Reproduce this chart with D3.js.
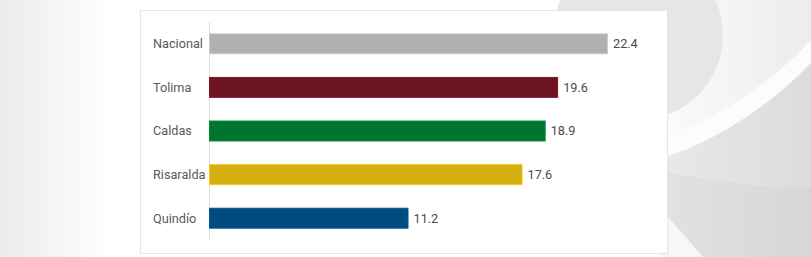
<!DOCTYPE html>
<html>
<head>
<meta charset="utf-8">
<script src="https://cdn.jsdelivr.net/npm/d3@7"></script>
<style>
  html, body { margin: 0; padding: 0; background: #fff; }
  svg { display: block; font-family: Roboto, "Noto Sans", sans-serif; }
</style>
</head>
<body>
<svg id="chart" width="811" height="257"></svg>
<script>
// chart data
const regions = ["Nacional", "Tolima", "Caldas", "Risaralda", "Quindío"];
const values = [22.4, 19.6, 18.9, 17.6, 11.2];
const barColors = ["#b0b0b0", "#6d1423", "#00752f", "#d5af0f", "#004c80"];

const W = 811, H = 257;
const card = { x: 140, y: 10, w: 527, h: 243 };
const plot = { left: 209, top: 22, bottom: 240 };

const svg = d3.select("#chart");
const defs = svg.append("defs");

// background decoration
const leftGrad = defs.append("linearGradient").attr("id", "leftGrad");
leftGrad.append("stop").attr("offset", "0%").attr("stop-color", "#ebebeb");
leftGrad.append("stop").attr("offset", "80%").attr("stop-color", "#ffffff");
svg.append("rect").attr("x", 0).attr("y", 0).attr("width", 140).attr("height", H)
  .attr("fill", "url(#leftGrad)");

const topGrad = defs.append("linearGradient").attr("id", "topGrad");
topGrad.append("stop").attr("offset", "0%").attr("stop-color", "#fbfbfb");
topGrad.append("stop").attr("offset", "100%").attr("stop-color", "#ececec");
svg.append("rect").attr("x", 660).attr("y", 0).attr("width", W - 660).attr("height", H)
  .attr("fill", "url(#topGrad)");

svg.append("circle").attr("cx", 638).attr("cy", 35).attr("r", 85).attr("fill", "#e6e6e6");

// white band
svg.append("path")
  .attr("d", "M660,140 C700,125 760,95 811,40 L811,64 C770,105 720,140 660,160 Z")
  .attr("fill", "#fcfcfc");

const lowGrad = defs.append("linearGradient").attr("id", "lowGrad");
lowGrad.append("stop").attr("offset", "0%").attr("stop-color", "#e8e8e8");
lowGrad.append("stop").attr("offset", "100%").attr("stop-color", "#dcdcdc");
svg.append("path")
  .attr("d", "M660,159 C720,140 770,105 811,63 L811,257 L703,257 L660,210 Z")
  .attr("fill", "url(#lowGrad)");
svg.append("path")
  .attr("d", "M660,172 C720,180 770,190 811,188 L811,257 L703,257 L660,210 Z")
  .attr("fill", "#000").attr("opacity", 0.025);
svg.append("path")
  .attr("d", "M660,208 L703,257 L660,257 Z")
  .attr("fill", "#f7f7f7");

// card
svg.append("rect")
  .attr("x", card.x + 0.5).attr("y", card.y + 0.5)
  .attr("width", card.w).attr("height", card.h)
  .attr("fill", "#fff").attr("stroke", "#e6e6e6");

// scales
const x = d3.scaleLinear().domain([0, 22.4]).range([plot.left, 608]);
const y = d3.scaleBand().domain(regions).range([plot.top, plot.bottom])
  .paddingInner(0.52).paddingOuter(0.26);

// axis line
svg.append("line")
  .attr("x1", plot.left + 0.5).attr("x2", plot.left + 0.5)
  .attr("y1", plot.top).attr("y2", plot.bottom)
  .attr("stroke", "#dcdcdc");

// bars
svg.selectAll("rect.bar")
  .data(regions)
  .enter()
  .append("rect")
  .attr("class", "bar")
  .attr("x", x(0) + 0.5)
  .attr("y", d => y(d) + 0.5)
  .attr("width", (d, i) => x(values[i]) - x(0) - 1)
  .attr("height", y.bandwidth() - 1)
  .attr("fill", (d, i) => barColors[i])
  .attr("stroke", (d, i) => d3.color(barColors[i]).brighter(0.4))
  .attr("stroke-width", 1);

// category labels
svg.selectAll("text.cat")
  .data(regions)
  .enter()
  .append("text")
  .attr("class", "cat")
  .attr("x", 153)
  .attr("y", d => y(d) + y.bandwidth() / 2)
  .attr("dy", "0.35em")
  .attr("font-size", "12.7px")
  .attr("fill", "#595959")
  .text(d => d);

// value labels
svg.selectAll("text.val")
  .data(regions)
  .enter()
  .append("text")
  .attr("class", "val")
  .attr("x", (d, i) => x(values[i]) + 5)
  .attr("y", d => y(d) + y.bandwidth() / 2)
  .attr("dy", "0.35em")
  .attr("font-size", "12.7px")
  .attr("fill", "#4a4a4a")
  .text((d, i) => values[i].toFixed(1));
</script>
</body>
</html>
